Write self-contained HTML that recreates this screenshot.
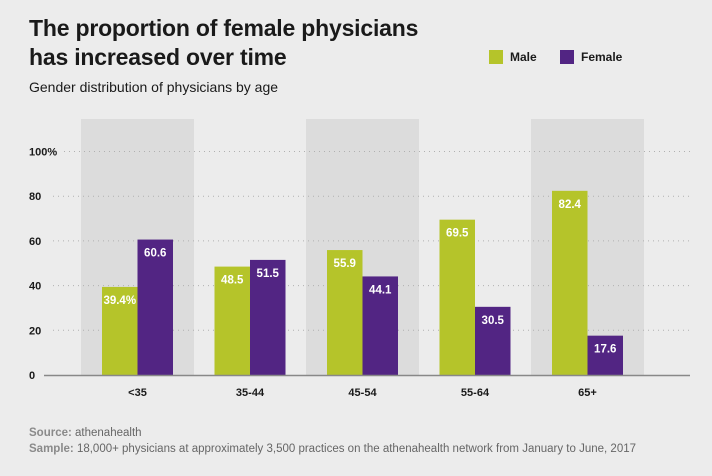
<!DOCTYPE html>
<html><head><meta charset="utf-8"><style>
body{margin:0;background:#ececec;font-family:"Liberation Sans",sans-serif;}
#wrap{position:relative;width:712px;height:476px;overflow:hidden;background:#ececec;}
.t{position:absolute;color:#1a1a1a;}
</style></head><body>
<div id="wrap">
<div class="t" style="left:29px;top:14px;font-size:23px;font-weight:bold;line-height:29px;letter-spacing:-0.2px;">The proportion of female physicians<br>has increased over time</div>
<div class="t" style="left:29px;top:79px;font-size:14px;">Gender distribution of physicians by age</div>
<div style="position:absolute;left:489px;top:50px;width:14px;height:14px;background:#b5c42a;"></div>
<div class="t" style="left:510px;top:50px;font-size:12px;font-weight:bold;">Male</div>
<div style="position:absolute;left:560px;top:50px;width:14px;height:14px;background:#522583;"></div>
<div class="t" style="left:581px;top:50px;font-size:12px;font-weight:bold;">Female</div>
<svg id="chart" width="712" height="476" style="position:absolute;left:0;top:0;"></svg>
<div class="t" style="left:29px;top:427px;font-size:11.5px;color:#666;"><b style="color:#8a8a8a">Source:</b> athenahealth</div>
<div class="t" style="left:29px;top:443px;font-size:11.5px;color:#666;"><b style="color:#8a8a8a">Sample:</b> 18,000+ physicians at approximately 3,500 practices on the athenahealth network from January to June, 2017</div>
</div>
<script>
const categories=["<35","35-44","45-54","55-64","65+"];
const maleValues=[39.4,48.5,55.9,69.5,82.4];
const femaleValues=[60.6,51.5,44.1,30.5,17.6];
const maleLabels=["39.4%","48.5","55.9","69.5","82.4"];
const femaleLabels=["60.6","51.5","44.1","30.5","17.6"];
const yTicks=[0,20,40,60,80,100];
const yTickLabels=["0","20","40","60","80","100%"];
const NS="http://www.w3.org/2000/svg";
const svg=document.getElementById('chart');
const y0=375,pxPer=2.235,x0=81,step=112.5,bw=35.5;
const yScale=v=>y0-v*pxPer;
const xBand=i=>x0+i*step;
function mk(tag,attrs){const e=document.createElementNS(NS,tag);for(const k in attrs)e.setAttribute(k,attrs[k]);svg.appendChild(e);return e;}
categories.forEach((c,i)=>{if(i%2===0){const r=mk('rect',{x:xBand(i),y:119,width:113,height:y0-119,fill:'#dcdcdc'});

}});
yTicks.forEach((t,i)=>{const y=yScale(t);
if(t>0){const l=mk('line',{x1:i===5?64:53,x2:690,y1:y,y2:y,stroke:'#b0b0b0','stroke-width':1,'stroke-dasharray':'1 4'});

}
const tx=mk('text',{x:29,y:y+4,'font-size':11,'font-weight':'bold',fill:'#1a1a1a'});tx.textContent=yTickLabels[i];

});
categories.forEach((c,i)=>{const cx=xBand(i)+56.5;
[[maleValues[i],maleLabels[i],'#b5c42a',cx-bw,'male'],[femaleValues[i],femaleLabels[i],'#522583',cx,'female']].forEach(([v,lab,col,x,s])=>{
const r=mk('rect',{x:x,y:yScale(v),width:bw,height:v*pxPer,fill:col});


const t=mk('text',{x:x+bw/2,y:yScale(v)+17,'font-size':11.5,'font-weight':'bold',fill:'#fff','text-anchor':'middle'});t.textContent=lab;

});
const xl=mk('text',{x:cx,y:396,'font-size':11,'font-weight':'bold',fill:'#1a1a1a','text-anchor':'middle'});xl.textContent=c;

});
const ax=mk('line',{x1:44,x2:690,y1:y0+0.5,y2:y0+0.5,stroke:'#888','stroke-width':1.5});


</script>
</body></html>
